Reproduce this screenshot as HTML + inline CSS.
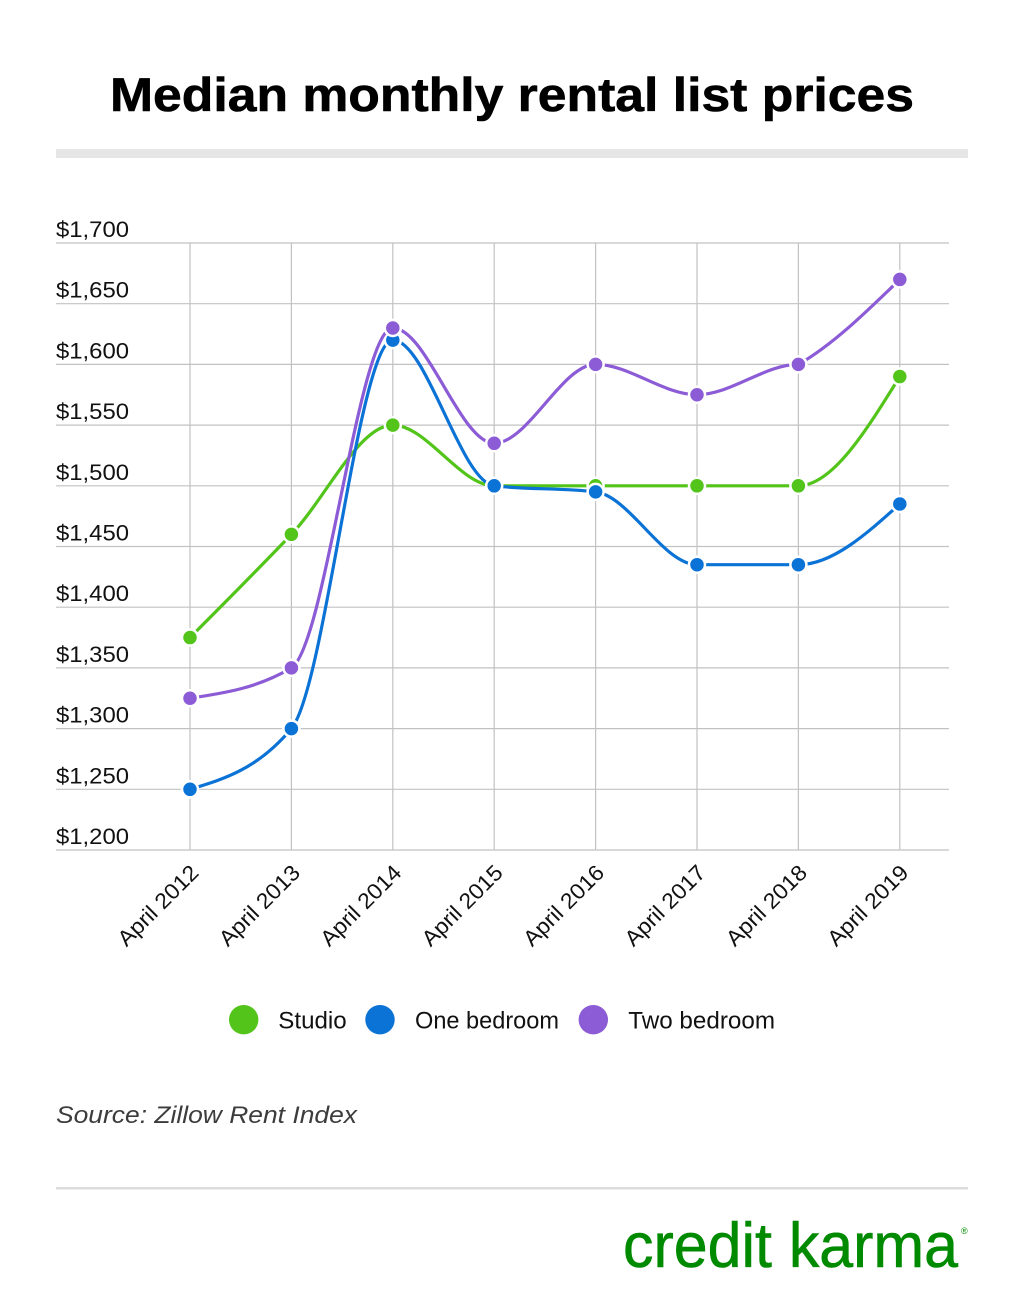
<!DOCTYPE html>
<html>
<head>
<meta charset="utf-8">
<style>
  html, body { margin: 0; padding: 0; background: #ffffff; }
  body { width: 1024px; height: 1298px; overflow: hidden; }
  svg { display: block; }
  text { font-family: "Liberation Sans", Arial, sans-serif; }
</style>
</head>
<body>
<svg width="1024" height="1298" viewBox="0 0 1024 1298" xmlns="http://www.w3.org/2000/svg">
  <rect x="0" y="0" width="1024" height="1298" fill="#ffffff"/>

  <!-- Title -->
  <text x="110" y="111" font-size="47" font-weight="bold" fill="#000" stroke="#000" stroke-width="0.6" textLength="804" lengthAdjust="spacingAndGlyphs">Median monthly rental list prices</text>

  <!-- top gray bar -->
  <rect x="56" y="149" width="912" height="9" fill="#e6e6e6"/>

  <!-- Grid -->
  <g stroke="#c2c2c2" stroke-width="1.2" fill="none">
    <line x1="56" y1="243" x2="949" y2="243"/>
    <line x1="56" y1="303.7" x2="949" y2="303.7"/>
    <line x1="56" y1="364.4" x2="949" y2="364.4"/>
    <line x1="56" y1="425.1" x2="949" y2="425.1"/>
    <line x1="56" y1="485.8" x2="949" y2="485.8"/>
    <line x1="56" y1="546.5" x2="949" y2="546.5"/>
    <line x1="56" y1="607.2" x2="949" y2="607.2"/>
    <line x1="56" y1="667.9" x2="949" y2="667.9"/>
    <line x1="56" y1="728.6" x2="949" y2="728.6"/>
    <line x1="56" y1="789.3" x2="949" y2="789.3"/>
    <line x1="56" y1="850" x2="949" y2="850"/>
    <line x1="190" y1="243" x2="190" y2="850"/>
    <line x1="291.4" y1="243" x2="291.4" y2="850"/>
    <line x1="392.8" y1="243" x2="392.8" y2="850"/>
    <line x1="494.2" y1="243" x2="494.2" y2="850"/>
    <line x1="595.6" y1="243" x2="595.6" y2="850"/>
    <line x1="697" y1="243" x2="697" y2="850"/>
    <line x1="798.4" y1="243" x2="798.4" y2="850"/>
    <line x1="899.8" y1="243" x2="899.8" y2="850"/>
  </g>

  <!-- Y labels -->
  <g font-size="22" fill="#111">
    <text x="56" y="237" textLength="73" lengthAdjust="spacingAndGlyphs">$1,700</text>
    <text x="56" y="297.7" textLength="73" lengthAdjust="spacingAndGlyphs">$1,650</text>
    <text x="56" y="358.4" textLength="73" lengthAdjust="spacingAndGlyphs">$1,600</text>
    <text x="56" y="419.1" textLength="73" lengthAdjust="spacingAndGlyphs">$1,550</text>
    <text x="56" y="479.8" textLength="73" lengthAdjust="spacingAndGlyphs">$1,500</text>
    <text x="56" y="540.5" textLength="73" lengthAdjust="spacingAndGlyphs">$1,450</text>
    <text x="56" y="601.2" textLength="73" lengthAdjust="spacingAndGlyphs">$1,400</text>
    <text x="56" y="661.9" textLength="73" lengthAdjust="spacingAndGlyphs">$1,350</text>
    <text x="56" y="722.6" textLength="73" lengthAdjust="spacingAndGlyphs">$1,300</text>
    <text x="56" y="783.3" textLength="73" lengthAdjust="spacingAndGlyphs">$1,250</text>
    <text x="56" y="844" textLength="73" lengthAdjust="spacingAndGlyphs">$1,200</text>
  </g>

  <!-- X labels -->
  <g font-size="22" fill="#111" text-anchor="end">
    <text transform="translate(200,874) rotate(-45)" textLength="104" lengthAdjust="spacingAndGlyphs">April 2012</text>
    <text transform="translate(301.4,874) rotate(-45)" textLength="104" lengthAdjust="spacingAndGlyphs">April 2013</text>
    <text transform="translate(402.8,874) rotate(-45)" textLength="104" lengthAdjust="spacingAndGlyphs">April 2014</text>
    <text transform="translate(504.2,874) rotate(-45)" textLength="104" lengthAdjust="spacingAndGlyphs">April 2015</text>
    <text transform="translate(605.6,874) rotate(-45)" textLength="104" lengthAdjust="spacingAndGlyphs">April 2016</text>
    <text transform="translate(707,874) rotate(-45)" textLength="104" lengthAdjust="spacingAndGlyphs">April 2017</text>
    <text transform="translate(808.4,874) rotate(-45)" textLength="104" lengthAdjust="spacingAndGlyphs">April 2018</text>
    <text transform="translate(909.8,874) rotate(-45)" textLength="104" lengthAdjust="spacingAndGlyphs">April 2019</text>
  </g>

  <!-- Studio -->
  <path d="M190,637.55 C223.8,603.66 257.6,569.77 291.4,534.36 C325.2,498.95 359,425.1 392.8,425.1 C426.6,425.1 460.4,485.8 494.2,485.8 C528,485.8 561.8,485.8 595.6,485.8 C629.4,485.8 663.2,485.8 697,485.8 C730.8,485.8 764.6,485.8 798.4,485.8 C832.2,485.8 866,431.17 899.8,376.54" fill="none" stroke="#52c41a" stroke-width="3.2"/>
  <g fill="#52c41a" stroke="#ffffff" stroke-width="2.5">
    <circle cx="190" cy="637.55" r="8"/>
    <circle cx="291.4" cy="534.36" r="8"/>
    <circle cx="392.8" cy="425.1" r="8"/>
    <circle cx="494.2" cy="485.8" r="8"/>
    <circle cx="595.6" cy="485.8" r="8"/>
    <circle cx="697" cy="485.8" r="8"/>
    <circle cx="798.4" cy="485.8" r="8"/>
    <circle cx="899.8" cy="376.54" r="8"/>
  </g>

  <!-- One bedroom -->
  <path d="M190,789.3 C223.8,779.19 257.6,769.06 291.4,728.6 C325.2,688.14 359,340.12 392.8,340.12 C426.6,340.12 460.4,481.76 494.2,485.8 C528,489.84 561.8,487.83 595.6,491.87 C629.4,495.91 663.2,564.71 697,564.71 C730.8,564.71 764.6,564.71 798.4,564.71 C832.2,564.71 866,534.36 899.8,504.01" fill="none" stroke="#0b72d6" stroke-width="3.2"/>
  <g fill="#0b72d6" stroke="#ffffff" stroke-width="2.5">
    <circle cx="190" cy="789.3" r="8"/>
    <circle cx="291.4" cy="728.6" r="8"/>
    <circle cx="392.8" cy="340.12" r="8"/>
    <circle cx="494.2" cy="485.8" r="8"/>
    <circle cx="595.6" cy="491.87" r="8"/>
    <circle cx="697" cy="564.71" r="8"/>
    <circle cx="798.4" cy="564.71" r="8"/>
    <circle cx="899.8" cy="504.01" r="8"/>
  </g>

  <!-- Two bedroom -->
  <path d="M190,698.25 C223.8,693.19 257.6,688.14 291.4,667.9 C325.2,647.66 359,327.98 392.8,327.98 C426.6,327.98 460.4,443.31 494.2,443.31 C528,443.31 561.8,364.4 595.6,364.4 C629.4,364.4 663.2,394.75 697,394.75 C730.8,394.75 764.6,364.4 798.4,364.4 C832.2,345.18 866,312.3 899.8,279.42" fill="none" stroke="#8c5bd6" stroke-width="3.2"/>
  <g fill="#8c5bd6" stroke="#ffffff" stroke-width="2.5">
    <circle cx="190" cy="698.25" r="8"/>
    <circle cx="291.4" cy="667.9" r="8"/>
    <circle cx="392.8" cy="327.98" r="8"/>
    <circle cx="494.2" cy="443.31" r="8"/>
    <circle cx="595.6" cy="364.4" r="8"/>
    <circle cx="697" cy="394.75" r="8"/>
    <circle cx="798.4" cy="364.4" r="8"/>
    <circle cx="899.8" cy="279.42" r="8"/>
  </g>

  <!-- Legend -->
  <circle cx="243.7" cy="1019.7" r="14.7" fill="#52c41a"/>
  <text x="278.3" y="1028.3" font-size="24" fill="#111" textLength="68.4" lengthAdjust="spacingAndGlyphs">Studio</text>
  <circle cx="380" cy="1019.7" r="14.7" fill="#0b72d6"/>
  <text x="415" y="1028.3" font-size="24" fill="#111" textLength="144" lengthAdjust="spacingAndGlyphs">One bedroom</text>
  <circle cx="593.3" cy="1019.7" r="14.7" fill="#8c5bd6"/>
  <text x="628.3" y="1028.3" font-size="24" fill="#111" textLength="146.7" lengthAdjust="spacingAndGlyphs">Two bedroom</text>

  <!-- Source -->
  <text x="56" y="1123" font-size="24" font-style="italic" fill="#3c3c3c" textLength="301" lengthAdjust="spacingAndGlyphs">Source: Zillow Rent Index</text>

  <!-- bottom rule -->
  <rect x="56" y="1187" width="912" height="2.5" fill="#dcdcdc"/>

  <!-- Logo -->
  <text x="623" y="1267" font-size="63" fill="#008a00" stroke="#008a00" stroke-width="0.6" textLength="335" lengthAdjust="spacingAndGlyphs">credit karma</text>
  <text x="961" y="1234" font-size="9" fill="#008a00">®</text>
</svg>
</body>
</html>
